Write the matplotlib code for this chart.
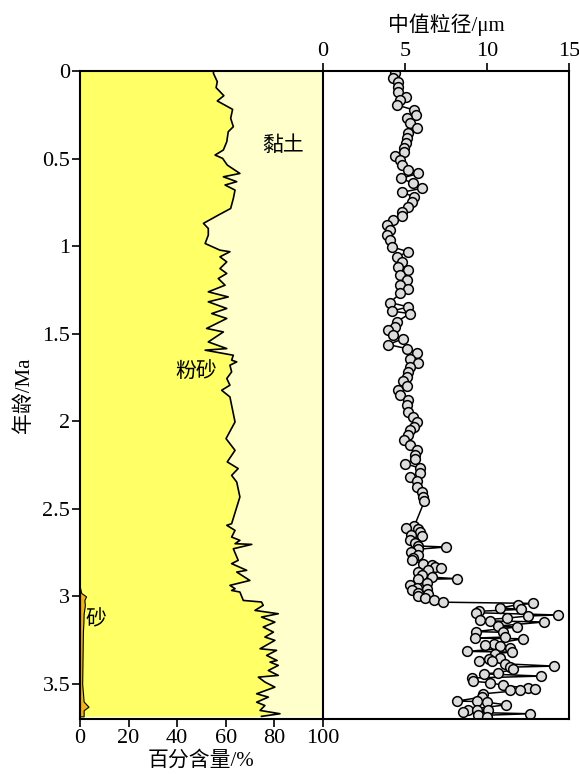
import numpy as np
import matplotlib
matplotlib.use('Agg')
import matplotlib.pyplot as plt

plt.rcParams['font.family'] = ['Liberation Serif', 'Noto Sans CJK SC']
plt.rcParams['axes.linewidth'] = 1.5

# silt upper boundary (sand + silt, %)
silt_age = [0.0, 0.013, 0.061, 0.095, 0.141, 0.171, 0.219, 0.270, 0.318, 0.347, 0.404, 0.451,
            0.480, 0.499, 0.537, 0.585, 0.604, 0.632, 0.651, 0.680, 0.728, 0.785, 0.823,
            0.870, 0.899, 0.937, 0.985, 1.023, 1.032, 1.061, 1.090, 1.128, 1.156, 1.185,
            1.223, 1.261, 1.290, 1.318, 1.356, 1.385, 1.413, 1.470, 1.490, 1.547, 1.585,
            1.594, 1.623, 1.651, 1.661, 1.680, 1.718, 1.756, 1.794, 1.823, 1.861, 1.909,
            2.004, 2.099, 2.166, 2.232, 2.270, 2.309, 2.347, 2.432, 2.585, 2.594, 2.623,
            2.661, 2.680, 2.699, 2.703, 2.728, 2.794, 2.813, 2.851, 2.861, 2.909, 2.937,
            2.956, 2.966, 2.975, 3.023, 3.032, 3.051, 3.080, 3.099, 3.118, 3.147, 3.175,
            3.204, 3.232, 3.251, 3.299, 3.308, 3.337, 3.366, 3.375, 3.394, 3.423, 3.451,
            3.461, 3.489, 3.518, 3.556, 3.575, 3.604, 3.623, 3.651, 3.670, 3.685]
silt_top = [55.0, 54.9, 56.5, 56.0, 59.2, 56.5, 62.8, 62.0, 63.1, 61.0, 60.4, 59.0,
            55.6, 58.7, 60.6, 65.8, 59.0, 64.5, 59.7, 63.8, 63.1, 62.0, 56.9,
            50.8, 52.8, 52.8, 51.5, 57.6, 61.7, 57.6, 60.4, 57.6, 60.4, 56.9,
            59.7, 52.8, 61.0, 52.8, 60.4, 54.2, 60.4, 52.1, 59.0, 52.8, 60.4,
            51.5, 63.1, 62.4, 64.5, 61.7, 62.4, 60.4, 61.7, 58.3, 61.7, 62.4,
            63.8, 60.1, 63.8, 60.6, 65.1, 62.4, 64.5, 65.8, 62.4, 60.4, 63.8,
            62.4, 65.8, 63.8, 70.7, 63.1, 65.1, 62.4, 68.6, 64.5, 69.9, 61.7,
            63.8, 62.4, 65.8, 67.2, 74.7, 75.4, 72.0, 81.6, 74.7, 80.2, 75.4,
            79.6, 76.1, 80.2, 74.1, 80.9, 76.8, 81.1, 78.2, 81.6, 77.5, 81.6,
            73.4, 76.1, 80.2, 72.7, 77.5, 72.7, 76.1, 74.1, 82.3, 74.7]

# sand (%)
sand_age = [2.95, 2.98, 3.00, 3.02, 3.05, 3.10, 3.15, 3.20, 3.30, 3.40, 3.50, 3.55,
            3.60, 3.63, 3.65, 3.685]
sand_pct = [0.0, 0.5, 2.5, 1.8, 2.0, 1.5, 1.4, 1.2, 1.1, 1.0, 0.9, 1.2, 1.5, 3.5, 1.5, 1.5]

# median grain size (um)
gs_age = [0.013, 0.042, 0.061, 0.090, 0.118, 0.147, 0.166, 0.194, 0.223, 0.251, 0.270,
          0.299, 0.324, 0.356, 0.385, 0.413, 0.438, 0.461, 0.484, 0.509, 0.537, 0.566,
          0.585, 0.613, 0.642, 0.670, 0.693, 0.718, 0.747, 0.775, 0.804, 0.827, 0.851,
          0.880, 0.909, 0.937, 0.966, 1.004, 1.032, 1.061, 1.090, 1.118, 1.137, 1.166,
          1.194, 1.223, 1.246, 1.270, 1.322, 1.347, 1.371, 1.385, 1.432, 1.461, 1.480,
          1.509, 1.528, 1.562, 1.585, 1.613, 1.642, 1.665, 1.690, 1.718, 1.747, 1.771,
          1.798, 1.823, 1.851, 1.880, 1.909, 1.947, 1.975, 2.004, 2.032, 2.051, 2.080,
          2.109, 2.137, 2.166, 2.194, 2.217, 2.242, 2.267, 2.293, 2.318, 2.343, 2.375,
          2.404, 2.432, 2.457,
          2.598, 2.610, 2.617, 2.632, 2.648, 2.655, 2.680, 2.693, 2.712, 2.718, 2.731,
          2.747, 2.762, 2.781, 2.794, 2.813, 2.819, 2.832, 2.838, 2.851, 2.861, 2.880,
          2.890, 2.899, 2.903, 2.922, 2.937, 2.952, 2.956, 2.966, 2.979, 2.985, 2.998,
          3.010, 3.023, 3.033,
          3.040, 3.047, 3.066, 3.074, 3.085, 3.093, 3.106, 3.112, 3.124, 3.135, 3.140,
          3.146, 3.169, 3.175, 3.201, 3.205, 3.232, 3.238, 3.242, 3.270, 3.280, 3.284,
          3.295, 3.314, 3.318, 3.327, 3.352, 3.356, 3.368, 3.371, 3.385, 3.398, 3.404,
          3.417, 3.436, 3.442, 3.455, 3.466, 3.485, 3.493, 3.508, 3.524, 3.531, 3.535,
          3.537, 3.556, 3.575, 3.598, 3.600, 3.604, 3.619, 3.646, 3.649, 3.651, 3.661,
          3.670, 3.680, 3.688]
gs_um = [4.39, 4.29, 4.60, 4.55, 4.55, 5.04, 4.70, 4.49, 5.57, 5.65, 5.10,
         5.30, 5.71, 5.20, 5.10, 5.04, 4.96, 4.96, 4.39, 4.70, 4.80, 5.20,
         5.81, 4.76, 5.51, 6.02, 4.80, 5.57, 5.41, 5.20, 4.80, 4.80, 4.29,
         3.88, 4.09, 3.88, 4.09, 4.19, 5.20, 4.49, 4.80, 4.60, 5.20, 4.70,
         5.10, 4.70, 5.20, 4.70, 4.09, 5.20, 4.19, 5.30, 4.49, 4.39, 3.98,
         4.29, 4.90, 3.98, 5.10, 5.71, 5.30, 5.81, 5.30, 5.20, 5.10, 4.90,
         5.10, 4.60, 4.70, 5.20, 5.10, 5.20, 5.51, 5.71, 5.57, 5.30, 5.16,
         4.96, 5.30, 5.71, 5.61, 5.61, 5.00, 5.91, 5.91, 5.30, 5.71, 5.71,
         6.02, 6.12, 6.18,
         5.57, 5.04, 5.77, 5.91, 5.37, 6.06, 5.30, 5.61, 5.81, 7.48, 5.77,
         5.37, 5.81, 5.51, 5.41, 6.12, 6.63, 6.83, 7.19, 6.42, 5.81, 6.02,
         6.63, 8.15, 5.81, 6.32, 5.30, 5.71, 6.32, 5.41, 5.81, 6.42, 5.81,
         6.22, 6.79, 7.34,
         12.8, 11.9, 10.8, 12.1, 9.5, 9.3, 14.3, 12.5, 11.2, 9.6, 10.2,
         13.5, 10.7, 11.8, 9.3, 11.0, 11.1, 9.27, 12.2, 10.4, 9.9, 10.8,
         11.4, 8.76, 11.5, 10.5, 10.8, 10.1, 9.5, 10.3, 11.1, 14.1, 11.4,
         11.6, 10.7, 9.8, 13.3, 9.07, 9.17, 10.2, 11.0, 12.5, 12.9, 11.4,
         12.0, 9.78, 9.67, 8.15, 9.37, 9.98, 11.16, 8.86, 9.37, 10.08, 8.56,
         12.6, 9.47, 9.98]

fig = plt.figure(figsize=(5.79, 7.74), dpi=100)
W, H = 579.0, 774.0
x0, xm, x1 = 80, 323, 569
ytop, ybot = 71, 719
axl = fig.add_axes([x0 / W, 1 - ybot / H, (xm - x0) / W, (ybot - ytop) / H])
axr = fig.add_axes([xm / W, 1 - ybot / H, (x1 - xm) / W, (ybot - ytop) / H])

# left panel: grain-size fractions
axl.fill_betweenx(silt_age, 0, silt_top, color='#FFFF66', lw=0)
axl.fill_betweenx(silt_age, silt_top, 100, color='#FFFFCC', lw=0)
axl.fill_betweenx(sand_age, 0, sand_pct, facecolor='#F2B21C', edgecolor='black', lw=0.8)
axl.plot(silt_top, silt_age, color='black', lw=1.2)

axl.set_xlim(0, 100)
axl.set_ylim(3.7, 0)
axl.set_xticks([0, 20, 40, 60, 80, 100])
axl.set_yticks([0, 0.5, 1, 1.5, 2, 2.5, 3, 3.5])
axl.set_yticklabels(['0', '0.5', '1', '1.5', '2', '2.5', '3', '3.5'])
axl.tick_params(direction='out', length=6, width=1.2, labelsize=16, pad=1)
axl.set_xlabel('百分含量/%', fontsize=15, labelpad=2)
axl.set_ylabel('年龄/Ma', fontsize=15, labelpad=6)
axl.spines['right'].set_visible(False)

axl.text(83.5, 0.43, '黏土', fontsize=15, ha='center', va='center')
axl.text(48, 1.72, '粉砂', fontsize=15, ha='center', va='center')
axl.text(6.5, 3.14, '砂', fontsize=15, ha='center', va='center')

# right panel: median grain size
axr.plot(gs_um, gs_age, color='black', lw=1.1, marker='o', markersize=7,
         markerfacecolor='#DCDCDC', markeredgecolor='black', markeredgewidth=1.1)
axr.set_xlim(0, 15)
axr.set_ylim(3.7, 0)
axr.xaxis.tick_top()
axr.xaxis.set_label_position('top')
axr.set_xticks([0, 5, 10, 15])
axr.set_yticks([])
axr.tick_params(direction='out', length=6, width=1.2, labelsize=16, pad=1)
axr.set_xlabel('中值粒径/μm', fontsize=15, labelpad=8)

plt.savefig('out.png', dpi=100)
